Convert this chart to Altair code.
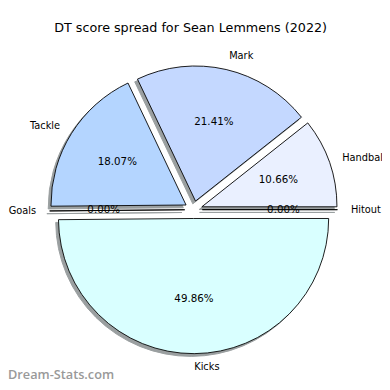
import altair as alt
import pandas as pd

categories = ["Handball", "Mark", "Tackle", "Goals", "Kicks", "Hitout"]
percent = [10.66, 21.41, 18.07, 0.00, 49.86, 0.00]
colors = ["#eaf0ff", "#c4d8ff", "#b4d5ff", "#c0ffd8", "#d9ffff", "#ffe0e0"]
title_text = "DT score spread for Sean Lemmens (2022)"
watermark = "Dream-Stats.com"

df = pd.DataFrame({
    "category": categories,
    "pct": percent,
    "order": list(range(len(categories))),
    "color": colors,
})

CX, CY = 189.5, 202.0   # pie centre (chart pixels)
R = 138                 # radius
D = 9                   # explode distance
SH = 2.8                # shadow offset

base = (
    alt.Chart(df)
    .transform_window(cum="sum(pct)", sort=[alt.SortField("order")], frame=[None, 0])
    .transform_calculate(start="datum.cum - datum.pct")
    .transform_calculate(t1="2.5*PI - 2*PI*datum.cum/100")
    .transform_calculate(t2="2.5*PI - 2*PI*datum.start/100")
    .transform_calculate(mid="(datum.t1 + datum.t2)/2")
    .transform_calculate(ex=f"{CX} + {D}*sin(datum.mid)")
    .transform_calculate(ey=f"{CY} - {D}*cos(datum.mid)")
    .transform_calculate(sx=f"datum.ex - {SH}")
    .transform_calculate(sy=f"datum.ey + {SH}")
    .transform_calculate(lx=f"datum.ex + {1.1*R}*sin(datum.mid)")
    .transform_calculate(ly=f"datum.ey - {1.1*R}*cos(datum.mid)")
    .transform_calculate(px=f"datum.ex + {0.6*R}*sin(datum.mid)")
    .transform_calculate(py=f"datum.ey - {0.6*R}*cos(datum.mid)")
    .transform_calculate(pct_label="format(datum.pct, '.2f') + '%'")
)

shadow = base.mark_arc(fill="#9a9fa0", stroke="#9a9fa0", strokeWidth=1).encode(
    x=alt.X("sx:Q", scale=None),
    y=alt.Y("sy:Q", scale=None),
    theta=alt.Theta("t1:Q", scale=None, stack=None),
    theta2=alt.Theta2("t2:Q"),
    radius=alt.value(R),
)

wedges = base.mark_arc(stroke="black", strokeWidth=0.9).encode(
    x=alt.X("ex:Q", scale=None),
    y=alt.Y("ey:Q", scale=None),
    theta=alt.Theta("t1:Q", scale=None, stack=None),
    theta2=alt.Theta2("t2:Q"),
    radius=alt.value(R),
    fill=alt.Color("color:N", scale=None),
)

font = "DejaVu Sans"
lab_left = base.transform_filter("sin(datum.mid) > 0").mark_text(
    align="left", baseline="middle", font=font, fontSize=10, color="black"
).encode(x=alt.X("lx:Q", scale=None), y=alt.Y("ly:Q", scale=None), text="category:N")

lab_right = base.transform_filter("sin(datum.mid) <= 0").mark_text(
    align="right", baseline="middle", font=font, fontSize=10, color="black"
).encode(x=alt.X("lx:Q", scale=None), y=alt.Y("ly:Q", scale=None), text="category:N")

pcts = base.mark_text(
    align="center", baseline="middle", font=font, fontSize=10.5, color="black"
).encode(x=alt.X("px:Q", scale=None), y=alt.Y("py:Q", scale=None), text="pct_label:N")

title = alt.Chart(pd.DataFrame({"t": [title_text]})).mark_text(
    align="center", baseline="middle", font=font, fontSize=13, color="black"
).encode(x=alt.value(186.5), y=alt.value(17), text="t:N")

wm = alt.Chart(pd.DataFrame({"t": [watermark]})).mark_text(
    align="left", baseline="middle", font="Open Sans", fontSize=13, fontWeight=600, color="#999999"
).encode(x=alt.value(0), y=alt.value(371), text="t:N")

chart = alt.layer(shadow, wedges, lab_left, lab_right, pcts, title, wm).properties(
    width=382, height=374, autosize=alt.AutoSizeParams(type="none"), padding=0
).configure_view(stroke=None)

chart.save("out.html", embed_options={"renderer": "svg", "actions": False})
